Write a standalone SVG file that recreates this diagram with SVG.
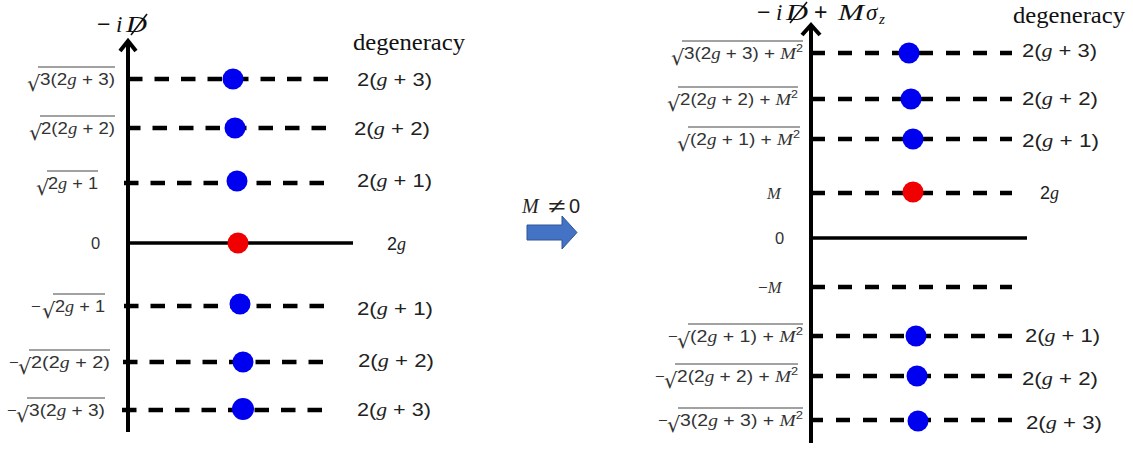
<svg xmlns="http://www.w3.org/2000/svg" width="1133" height="449" viewBox="0 0 1133 449">
<style>
.bg{fill:#fff}
.axis{stroke:#000;stroke-width:4;fill:none}
.solid{stroke:#000;stroke-width:3.5}
.dash{stroke:#000;stroke-width:4.5;stroke-dasharray:14.5 12}
.dashR{stroke:#000;stroke-width:4.5;stroke-dasharray:14 13}
.blue{fill:#0000f0}
.red{fill:#f00000}
.lbl{font-family:"Liberation Sans",Arial,sans-serif;font-size:16.5px;fill:#333}
.rad{font-family:"DejaVu Sans","Liberation Sans",sans-serif;font-size:21px;fill:#333}
.vin{stroke:#444;stroke-width:1}
.it{font-family:"Liberation Serif","Times New Roman",serif;font-style:italic}
.deg{font-family:"Liberation Sans",Arial,sans-serif;font-size:18px;fill:#222}
.word{font-family:"Liberation Serif","Times New Roman",serif;font-size:24px;fill:#111}
.title{font-family:"Liberation Serif","Times New Roman",serif;font-style:italic;fill:#111}
.sans{font-family:"Liberation Sans",Arial,sans-serif;font-style:normal}
.slash{stroke:#111;stroke-width:1.6}
.sup{font-size:11px}
</style>
<rect class="bg" x="0" y="0" width="1133" height="449"/>

<!-- LEFT PANEL -->
<g id="left-axis">
  <line class="axis" x1="128" y1="41" x2="128" y2="432"/>
  <polyline class="axis" points="120,51 128,41 136,51"/>
  <text class="title" y="32" font-size="23"><tspan class="sans" x="97">−</tspan><tspan x="116">i</tspan><tspan x="126" textLength="21" lengthAdjust="spacingAndGlyphs">D</tspan></text>
  <line class="slash" x1="131" y1="35" x2="147" y2="14"/>
  <text class="word" x="353" y="50" textLength="112" lengthAdjust="spacingAndGlyphs">degeneracy</text>
</g>

<g id="left-level-p3">
  <line class="dash" x1="128" y1="79" x2="330" y2="79"/>
  <circle class="blue" cx="233" cy="79" r="10.5"/>
  <text class="rad" x="27" y="91">√</text>
  <line class="vin" x1="38" y1="67" x2="115" y2="67"/>
  <text class="lbl" x="40" y="85" textLength="75" lengthAdjust="spacingAndGlyphs">3(2<tspan class="it">g</tspan> + 3)</text>
  <text class="deg" x="357" y="86" textLength="75" lengthAdjust="spacingAndGlyphs">2(<tspan class="it">g</tspan> + 3)</text>
</g>
<g id="left-level-p2">
  <line class="dash" x1="126" y1="128" x2="326" y2="128"/>
  <circle class="blue" cx="235" cy="128" r="10.5"/>
  <text class="rad" x="29" y="140">√</text>
  <line class="vin" x1="40" y1="116" x2="115" y2="116"/>
  <text class="lbl" x="41" y="134" textLength="74" lengthAdjust="spacingAndGlyphs">2(2<tspan class="it">g</tspan> + 2)</text>
  <text class="deg" x="354" y="135" textLength="76" lengthAdjust="spacingAndGlyphs">2(<tspan class="it">g</tspan> + 2)</text>
</g>
<g id="left-level-p1">
  <line class="dash" x1="124" y1="183" x2="326" y2="183"/>
  <circle class="blue" cx="237" cy="181" r="10.5"/>
  <text class="rad" x="36" y="195">√</text>
  <line class="vin" x1="47" y1="171" x2="98" y2="171"/>
  <text class="lbl" x="48" y="189" textLength="50" lengthAdjust="spacingAndGlyphs">2<tspan class="it">g</tspan> + 1</text>
  <text class="deg" x="357" y="187" textLength="75" lengthAdjust="spacingAndGlyphs">2(<tspan class="it">g</tspan> + 1)</text>
</g>
<g id="left-level-0">
  <line class="solid" x1="126" y1="243" x2="353" y2="243"/>
  <circle class="red" cx="238" cy="243" r="10.5"/>
  <text class="lbl" x="91" y="249">0</text>
  <text class="deg" x="387" y="250"><tspan>2</tspan><tspan class="it">g</tspan></text>
</g>
<g id="left-level-m1">
  <line class="dash" x1="124" y1="306" x2="326" y2="306"/>
  <circle class="blue" cx="240" cy="304" r="10.5"/>
  <text class="lbl" x="31" y="312">−</text>
  <text class="rad" x="42" y="318">√</text>
  <line class="vin" x1="53" y1="294" x2="105" y2="294"/>
  <text class="lbl" x="55" y="312" textLength="50" lengthAdjust="spacingAndGlyphs">2<tspan class="it">g</tspan> + 1</text>
  <text class="deg" x="357" y="315" textLength="76" lengthAdjust="spacingAndGlyphs">2(<tspan class="it">g</tspan> + 1)</text>
</g>
<g id="left-level-m2">
  <line class="dash" x1="123" y1="362" x2="326" y2="362"/>
  <circle class="blue" cx="243" cy="362" r="10.5"/>
  <text class="lbl" x="9" y="368">−</text>
  <text class="rad" x="18" y="374">√</text>
  <line class="vin" x1="29" y1="350" x2="110" y2="350"/>
  <text class="lbl" x="31" y="368" textLength="79" lengthAdjust="spacingAndGlyphs">2(2<tspan class="it">g</tspan> + 2)</text>
  <text class="deg" x="358" y="367" textLength="76" lengthAdjust="spacingAndGlyphs">2(<tspan class="it">g</tspan> + 2)</text>
</g>
<g id="left-level-m3">
  <line class="dash" x1="122" y1="410" x2="327" y2="410"/>
  <circle class="blue" cx="243" cy="409" r="11"/>
  <text class="lbl" x="7" y="416">−</text>
  <text class="rad" x="16" y="422">√</text>
  <line class="vin" x1="27" y1="398" x2="105" y2="398"/>
  <text class="lbl" x="29" y="416" textLength="76" lengthAdjust="spacingAndGlyphs">3(2<tspan class="it">g</tspan> + 3)</text>
  <text class="deg" x="357" y="416" textLength="74" lengthAdjust="spacingAndGlyphs">2(<tspan class="it">g</tspan> + 3)</text>
</g>

<!-- MIDDLE ARROW -->
<g id="transition">
  <text y="213" font-size="20" fill="#222"><tspan class="it" x="522">M</tspan><tspan class="sans" x="548" textLength="17" lengthAdjust="spacingAndGlyphs">≠</tspan><tspan class="sans" x="569">0</tspan></text>
  <polygon points="527,225 562,225 562,216 577,232.5 562,249 562,240 527,240" fill="#4472c4" stroke="#2f5597" stroke-width="1"/>
</g>

<!-- RIGHT PANEL -->
<g id="right-axis">
  <line class="axis" x1="811" y1="25" x2="811" y2="443"/>
  <polyline class="axis" points="802,35 811,25 820,35"/>
  <text class="title" y="20" font-size="23"><tspan class="sans" x="757">−</tspan><tspan x="776">i</tspan><tspan x="786" textLength="22" lengthAdjust="spacingAndGlyphs">D</tspan><tspan class="sans" x="814">+</tspan><tspan x="838" textLength="26" lengthAdjust="spacingAndGlyphs">M</tspan><tspan x="866">σ</tspan><tspan x="879" font-size="15" dy="4">z</tspan></text>
  <line class="slash" x1="790" y1="23" x2="807" y2="2"/>
  <text class="word" x="1013" y="23" textLength="112" lengthAdjust="spacingAndGlyphs">degeneracy</text>
</g>

<g id="right-level-p3">
  <line class="dashR" x1="811" y1="53" x2="1012" y2="53"/>
  <circle class="blue" cx="909" cy="53" r="10.5"/>
  <text class="rad" x="671" y="65">√</text>
  <line class="vin" x1="682" y1="41" x2="803" y2="41"/>
  <text class="lbl" x="684" y="59" textLength="119" lengthAdjust="spacingAndGlyphs">3(2<tspan class="it">g</tspan> + 3) + <tspan class="it">M</tspan><tspan class="sup" dy="-7">2</tspan></text>
  <text class="deg" x="1022" y="57" textLength="75" lengthAdjust="spacingAndGlyphs">2(<tspan class="it">g</tspan> + 3)</text>
</g>
<g id="right-level-p2">
  <line class="dashR" x1="811" y1="99" x2="1012" y2="99"/>
  <circle class="blue" cx="911" cy="99" r="10.5"/>
  <text class="rad" x="667" y="111">√</text>
  <line class="vin" x1="678" y1="87" x2="798" y2="87"/>
  <text class="lbl" x="680" y="105" textLength="118" lengthAdjust="spacingAndGlyphs">2(2<tspan class="it">g</tspan> + 2) + <tspan class="it">M</tspan><tspan class="sup" dy="-7">2</tspan></text>
  <text class="deg" x="1022" y="105" textLength="76" lengthAdjust="spacingAndGlyphs">2(<tspan class="it">g</tspan> + 2)</text>
</g>
<g id="right-level-p1">
  <line class="dashR" x1="811" y1="139" x2="1012" y2="139"/>
  <circle class="blue" cx="913" cy="139" r="10.5"/>
  <text class="rad" x="677" y="151">√</text>
  <line class="vin" x1="688" y1="127" x2="800" y2="127"/>
  <text class="lbl" x="690" y="145" textLength="110" lengthAdjust="spacingAndGlyphs">(2<tspan class="it">g</tspan> + 1) + <tspan class="it">M</tspan><tspan class="sup" dy="-7">2</tspan></text>
  <text class="deg" x="1022" y="147" textLength="77" lengthAdjust="spacingAndGlyphs">2(<tspan class="it">g</tspan> + 1)</text>
</g>
<g id="right-level-M">
  <line class="dashR" x1="811" y1="193" x2="1012" y2="193"/>
  <circle class="red" cx="913" cy="192" r="10.5"/>
  <text class="lbl it" x="767" y="199">M</text>
  <text class="deg" x="1040" y="199"><tspan>2</tspan><tspan class="it">g</tspan></text>
</g>
<g id="right-level-0">
  <line class="solid" x1="809" y1="238" x2="1027" y2="238"/>
  <text class="lbl" x="775" y="244">0</text>
</g>
<g id="right-level-mM">
  <line class="dashR" x1="811" y1="287" x2="1012" y2="287"/>
  <text class="lbl" x="758" y="293">−<tspan class="it">M</tspan></text>
</g>
<g id="right-level-m1">
  <line class="dashR" x1="809" y1="336" x2="1012" y2="336"/>
  <circle class="blue" cx="916" cy="336" r="10.5"/>
  <text class="lbl" x="668" y="342">−</text>
  <text class="rad" x="677" y="348">√</text>
  <line class="vin" x1="688" y1="324" x2="803" y2="324"/>
  <text class="lbl" x="690" y="342" textLength="113" lengthAdjust="spacingAndGlyphs">(2<tspan class="it">g</tspan> + 1) + <tspan class="it">M</tspan><tspan class="sup" dy="-7">2</tspan></text>
  <text class="deg" x="1025" y="342" textLength="75" lengthAdjust="spacingAndGlyphs">2(<tspan class="it">g</tspan> + 1)</text>
</g>
<g id="right-level-m2">
  <line class="dashR" x1="809" y1="376" x2="1012" y2="376"/>
  <circle class="blue" cx="917" cy="376" r="10.5"/>
  <text class="lbl" x="655" y="382">−</text>
  <text class="rad" x="664" y="388">√</text>
  <line class="vin" x1="675" y1="364" x2="798" y2="364"/>
  <text class="lbl" x="677" y="382" textLength="121" lengthAdjust="spacingAndGlyphs">2(2<tspan class="it">g</tspan> + 2) + <tspan class="it">M</tspan><tspan class="sup" dy="-7">2</tspan></text>
  <text class="deg" x="1022" y="385" textLength="76" lengthAdjust="spacingAndGlyphs">2(<tspan class="it">g</tspan> + 2)</text>
</g>
<g id="right-level-m3">
  <line class="dashR" x1="809" y1="420" x2="1012" y2="420"/>
  <circle class="blue" cx="918" cy="421" r="10.5"/>
  <text class="lbl" x="658" y="426">−</text>
  <text class="rad" x="667" y="432">√</text>
  <line class="vin" x1="678" y1="408" x2="803" y2="408"/>
  <text class="lbl" x="680" y="426" textLength="123" lengthAdjust="spacingAndGlyphs">3(2<tspan class="it">g</tspan> + 3) + <tspan class="it">M</tspan><tspan class="sup" dy="-7">2</tspan></text>
  <text class="deg" x="1026" y="429" textLength="76" lengthAdjust="spacingAndGlyphs">2(<tspan class="it">g</tspan> + 3)</text>
</g>
</svg>
